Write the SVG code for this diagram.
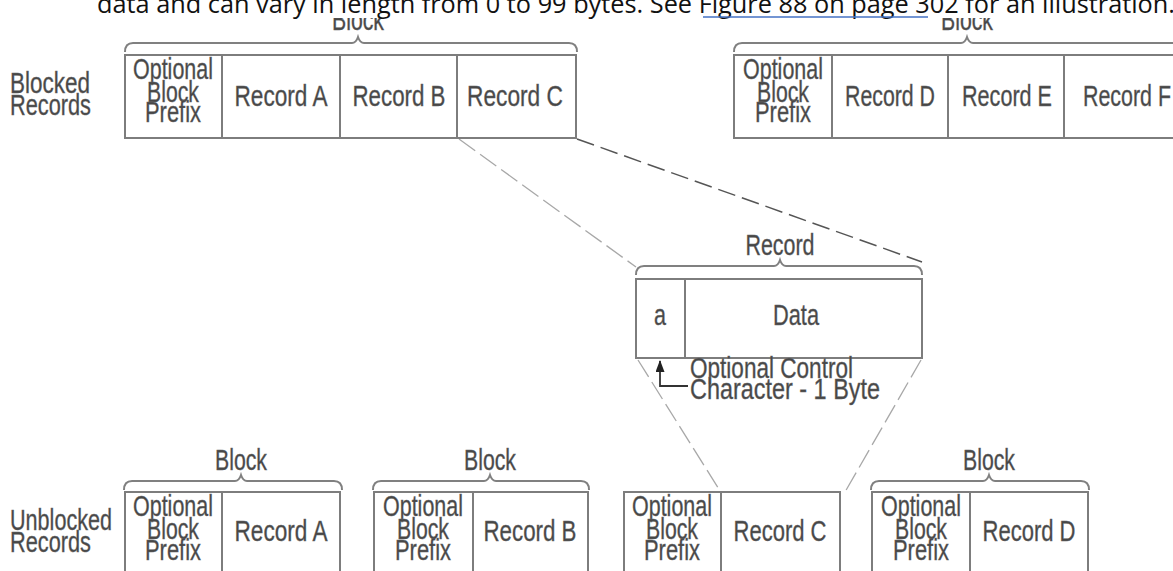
<svg xmlns="http://www.w3.org/2000/svg" width="1173" height="571" viewBox="0 0 1173 571">
<style>
.t{font-family:"Liberation Sans",Arial,sans-serif;font-size:29px;fill:#474747;stroke:#6a6a6a;stroke-width:0.4;}
.m{text-anchor:middle;}
.box{fill:#fff;stroke:#7d7d7d;stroke-width:2;}
.ln{fill:none;stroke:#7d7d7d;stroke-width:2;}
.br{fill:none;stroke:#808080;stroke-width:2;}
.d1{fill:none;stroke:#a8a8a8;stroke-width:1.3;stroke-dasharray:20 6;}
.d2{fill:none;stroke:#555;stroke-width:1.5;stroke-dasharray:18 7;}
.s{font-family:"Open Sans","Noto Sans",sans-serif;font-size:25.3px;fill:#111;}
</style>
<defs>
<marker id="ah" markerWidth="12" markerHeight="9" refX="11" refY="4.5" orient="auto" markerUnits="userSpaceOnUse" viewBox="0 0 12 9">
<path d="M0,0 L12,4.5 L0,9 Z" fill="#222"/>
</marker>
</defs>
<rect width="1173" height="571" fill="#fff"/>

<!-- connectors (zoom dashed lines) -->
<g id="connectors">
<line class="d1" x1="459" y1="139" x2="636" y2="267"/>
<line class="d2" x1="577" y1="139" x2="922" y2="262"/>
<line class="d1" x1="638" y1="360" x2="722" y2="494"/>
<line class="d1" x1="921" y1="360" x2="845" y2="492"/>
</g>

<!-- Top blocked block 1 -->
<g id="blocked-block-1">
<text class="t m" x="358" y="30" textLength="52" lengthAdjust="spacingAndGlyphs">Block</text>
<path class="br" d="M125,52 Q125,43 133,43 H352 Q356,43 358,37 Q360,43 364,43 H569 Q577,43 577,52"/>
<rect class="box" x="125" y="55" width="451" height="83"/>
<line class="ln" x1="222" y1="55" x2="222" y2="138"/>
<line class="ln" x1="340" y1="55" x2="340" y2="138"/>
<line class="ln" x1="457" y1="55" x2="457" y2="138"/>
<text class="t m" x="173" y="79" textLength="80" lengthAdjust="spacingAndGlyphs">Optional</text>
<text class="t m" x="173" y="102" textLength="52" lengthAdjust="spacingAndGlyphs">Block</text>
<text class="t m" x="173" y="122" textLength="56" lengthAdjust="spacingAndGlyphs">Prefix</text>
<text class="t m" x="281" y="106" textLength="93" lengthAdjust="spacingAndGlyphs">Record A</text>
<text class="t m" x="399" y="106" textLength="93" lengthAdjust="spacingAndGlyphs">Record B</text>
<text class="t m" x="515" y="106" textLength="96" lengthAdjust="spacingAndGlyphs">Record C</text>
</g>

<!-- Top blocked block 2 -->
<g id="blocked-block-2">
<text class="t m" x="967" y="30" textLength="52" lengthAdjust="spacingAndGlyphs">Block</text>
<path class="br" d="M734,52 Q734,43 742,43 H961 Q965,43 967,37 Q969,43 973,43 H1192 Q1200,43 1200,52"/>
<rect class="box" x="734" y="55" width="470" height="83"/>
<line class="ln" x1="832" y1="55" x2="832" y2="138"/>
<line class="ln" x1="948" y1="55" x2="948" y2="138"/>
<line class="ln" x1="1064" y1="55" x2="1064" y2="138"/>
<text class="t m" x="783" y="79" textLength="80" lengthAdjust="spacingAndGlyphs">Optional</text>
<text class="t m" x="783" y="102" textLength="52" lengthAdjust="spacingAndGlyphs">Block</text>
<text class="t m" x="783" y="122" textLength="56" lengthAdjust="spacingAndGlyphs">Prefix</text>
<text class="t m" x="890" y="106" textLength="90" lengthAdjust="spacingAndGlyphs">Record D</text>
<text class="t m" x="1007" y="106" textLength="90" lengthAdjust="spacingAndGlyphs">Record E</text>
<text class="t" x="1083" y="106" textLength="88" lengthAdjust="spacingAndGlyphs">Record F</text>
</g>

<!-- clipped header sentence -->
<g id="header-text">
<rect x="0" y="0" width="1173" height="18" fill="#fff"/>
<text class="s" x="97" y="13">data and can vary in length from 0 to 99 bytes. See <tspan>Figure 88 on page 302</tspan> for an illustration.</text>
<line x1="703" y1="17" x2="928" y2="17" stroke="#4472c4" stroke-width="1.5"/>
</g>

<!-- Row labels -->
<g id="label-blocked">
<text class="t" x="10" y="93" textLength="80" lengthAdjust="spacingAndGlyphs">Blocked</text>
<text class="t" x="10" y="115" textLength="81" lengthAdjust="spacingAndGlyphs">Records</text>
</g>
<g id="label-unblocked">
<text class="t" x="10" y="530" textLength="102" lengthAdjust="spacingAndGlyphs">Unblocked</text>
<text class="t" x="10" y="552" textLength="81" lengthAdjust="spacingAndGlyphs">Records</text>
</g>

<!-- Record detail -->
<g id="record">
<text class="t m" x="780" y="255" textLength="69" lengthAdjust="spacingAndGlyphs">Record</text>
<path class="br" d="M636,275 Q636,266 644,266 H774 Q778,266 780,260 Q782,266 786,266 H914 Q922,266 922,275"/>
<rect class="box" x="636" y="279" width="286" height="79"/>
<line class="ln" x1="685" y1="279" x2="685" y2="358"/>
<text class="t m" x="660" y="325" textLength="12" lengthAdjust="spacingAndGlyphs">a</text>
<text class="t m" x="796" y="325" textLength="46" lengthAdjust="spacingAndGlyphs">Data</text>
<path d="M688,386 H660 V361" fill="none" stroke="#333" stroke-width="1.8" marker-end="url(#ah)"/>
<text class="t" x="690" y="378" textLength="163" lengthAdjust="spacingAndGlyphs">Optional Control</text>
<text class="t" x="690" y="399" textLength="190" lengthAdjust="spacingAndGlyphs">Character - 1 Byte</text>
</g>

<!-- Bottom unblocked blocks -->
<g id="unblocked-block-a">
<text class="t m" x="241" y="470" textLength="52" lengthAdjust="spacingAndGlyphs">Block</text>
<path class="br" d="M124,490 Q124,481 132,481 H235 Q239,481 241,475 Q243,481 247,481 H334 Q342,481 342,490"/>
<rect class="box" x="125" y="492" width="215" height="90"/>
<line class="ln" x1="222" y1="492" x2="222" y2="582"/>
<text class="t m" x="173" y="516" textLength="80" lengthAdjust="spacingAndGlyphs">Optional</text>
<text class="t m" x="173" y="539" textLength="52" lengthAdjust="spacingAndGlyphs">Block</text>
<text class="t m" x="173" y="560" textLength="56" lengthAdjust="spacingAndGlyphs">Prefix</text>
<text class="t m" x="281" y="541" textLength="93" lengthAdjust="spacingAndGlyphs">Record A</text>
</g>
<g id="unblocked-block-b">
<text class="t m" x="490" y="470" textLength="52" lengthAdjust="spacingAndGlyphs">Block</text>
<path class="br" d="M373,490 Q373,481 381,481 H484 Q488,481 490,475 Q492,481 496,481 H581 Q589,481 589,490"/>
<rect class="box" x="374" y="492" width="214" height="90"/>
<line class="ln" x1="473" y1="492" x2="473" y2="582"/>
<text class="t m" x="423" y="516" textLength="80" lengthAdjust="spacingAndGlyphs">Optional</text>
<text class="t m" x="423" y="539" textLength="52" lengthAdjust="spacingAndGlyphs">Block</text>
<text class="t m" x="423" y="560" textLength="56" lengthAdjust="spacingAndGlyphs">Prefix</text>
<text class="t m" x="530" y="541" textLength="93" lengthAdjust="spacingAndGlyphs">Record B</text>
</g>
<g id="unblocked-block-c">
<rect class="box" x="624" y="492" width="216" height="90"/>
<line class="ln" x1="721" y1="492" x2="721" y2="582"/>
<text class="t m" x="672" y="516" textLength="80" lengthAdjust="spacingAndGlyphs">Optional</text>
<text class="t m" x="672" y="539" textLength="52" lengthAdjust="spacingAndGlyphs">Block</text>
<text class="t m" x="672" y="560" textLength="56" lengthAdjust="spacingAndGlyphs">Prefix</text>
<text class="t m" x="780" y="541" textLength="93" lengthAdjust="spacingAndGlyphs">Record C</text>
</g>
<g id="unblocked-block-d">
<text class="t m" x="989" y="470" textLength="52" lengthAdjust="spacingAndGlyphs">Block</text>
<path class="br" d="M871,490 Q871,481 879,481 H983 Q987,481 989,475 Q991,481 995,481 H1081 Q1089,481 1089,490"/>
<rect class="box" x="872" y="492" width="216" height="90"/>
<line class="ln" x1="970" y1="492" x2="970" y2="582"/>
<text class="t m" x="921" y="516" textLength="80" lengthAdjust="spacingAndGlyphs">Optional</text>
<text class="t m" x="921" y="539" textLength="52" lengthAdjust="spacingAndGlyphs">Block</text>
<text class="t m" x="921" y="560" textLength="56" lengthAdjust="spacingAndGlyphs">Prefix</text>
<text class="t m" x="1029" y="541" textLength="93" lengthAdjust="spacingAndGlyphs">Record D</text>
</g>
</svg>
